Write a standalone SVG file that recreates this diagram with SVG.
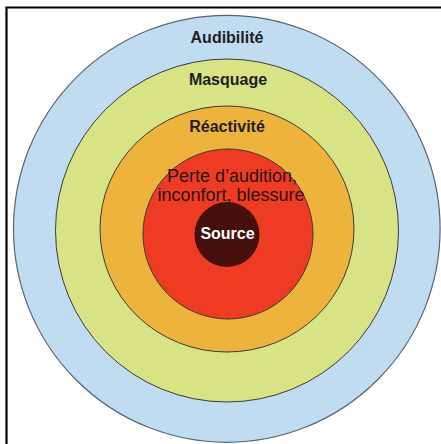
<svg xmlns="http://www.w3.org/2000/svg" width="441" height="444" viewBox="0 0 441 444">
<style>
.ring{stroke:#3a3a3a;stroke-width:1}
.lbl{font-family:"Liberation Sans",Arial,sans-serif;font-size:16px;font-weight:bold;fill:#1e1e1e;text-anchor:middle}
.lbl2{font-family:"Liberation Sans",Arial,sans-serif;font-size:18px;fill:#2a1410;text-anchor:middle}
</style>
<rect x="0" y="0" width="441" height="444" fill="#ffffff"/>
<path d="M6.5 444 V7.5 H441" fill="none" stroke="#000" stroke-width="2.2"/>
<g id="audibilite">
<ellipse cx="226.8" cy="228.8" rx="213.3" ry="213.5" fill="#c0dcf1" stroke="#5a6470" stroke-width="1.2"/>
<text class="lbl" x="227" y="43">Audibilité</text>
</g>
<g id="masquage">
<ellipse cx="227" cy="230.5" rx="171.5" ry="171.5" fill="#d7e385" class="ring"/>
<text class="lbl" x="228" y="85">Masquage</text>
</g>
<g id="reactivite">
<ellipse cx="227" cy="229" rx="127" ry="123" fill="#eeb33d" class="ring"/>
<text class="lbl" x="227" y="131.5">Réactivité</text>
</g>
<g id="perte">
<circle cx="228" cy="234" r="85" fill="#ee3b24" class="ring"/>
<text class="lbl2" x="232" y="182">Perte d’audition,</text>
<text class="lbl2" x="231" y="201">inconfort, blessure</text>
</g>
<g id="source">
<circle cx="227" cy="234.5" r="32.5" fill="#45100b"/>
<text class="lbl" x="227.5" y="239" fill="#ffffff" style="fill:#ffffff">Source</text>
</g>
<g id="connectors"></g>
</svg>
